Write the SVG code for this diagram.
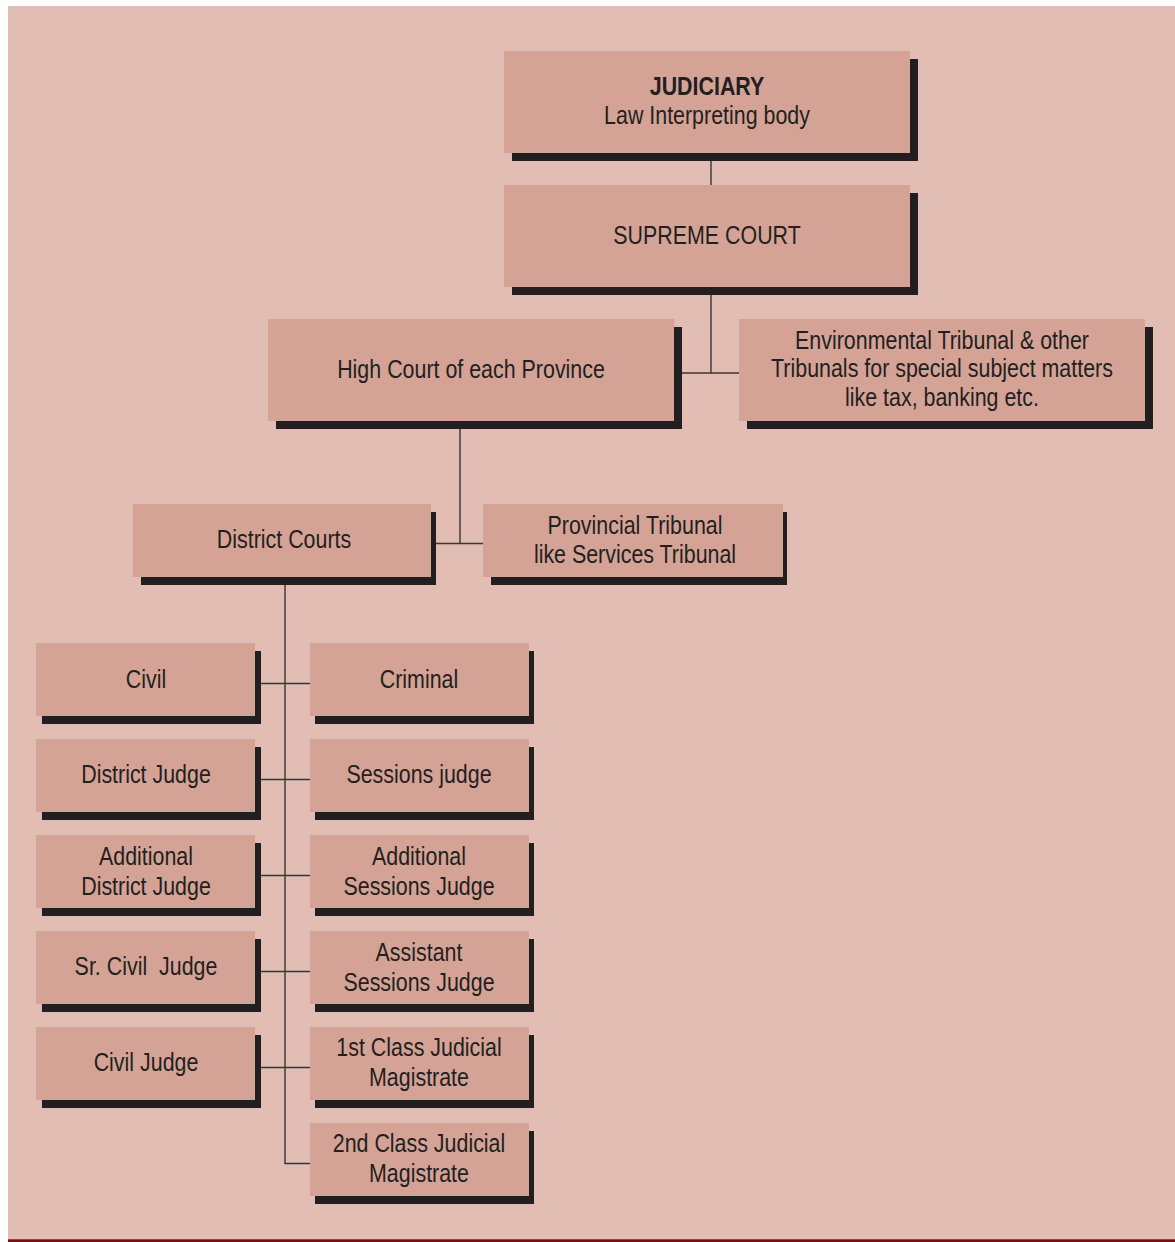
<svg xmlns="http://www.w3.org/2000/svg" width="1175" height="1242" viewBox="0 0 1175 1242">
<style>
.box{fill:#D4A396}
.sh{fill:#231F20}
text{font-family:"Liberation Sans",Arial,sans-serif;font-size:25.5px;fill:#231F20;text-anchor:middle}
.b{font-weight:bold}
.c{stroke:#3A3536;stroke-width:1.4;fill:none}
</style>
<rect x="0" y="0" width="1175" height="1242" fill="#FFFFFF"/>
<rect x="8" y="6" width="1167" height="1234" fill="#E2BDB4"/>
<rect x="8" y="1239.3" width="1167" height="2.7" fill="#7E0C12"/>
<g id="connectors">
<path class="c" d="M711 160V186M711 294V373M682 373H740M460 428V543.5M436 543.5H484M285 584V1163.5H311M261 683.5H311M261 779.5H311M261 875.5H311M261 971.5H311M261 1067.5H311"/>
</g>
<g id="judiciary"><rect class="sh" x="512" y="59" width="406" height="102"/><rect class="box" x="504" y="51" width="406" height="102"/><text transform="translate(707 95) scale(.84 1)" class="b">JUDICIARY</text><text transform="translate(707 123.5) scale(.84 1)">Law Interpreting body</text></g>
<g id="supreme"><rect class="sh" x="512" y="193" width="406" height="102"/><rect class="box" x="504" y="185" width="406" height="102"/><text transform="translate(707 244) scale(.84 1)">SUPREME COURT</text></g>
<g id="highcourt"><rect class="sh" x="276" y="327" width="406" height="102"/><rect class="box" x="268" y="319" width="406" height="102"/><text transform="translate(471 378) scale(.84 1)">High Court of each Province</text></g>
<g id="envtribunal"><rect class="sh" x="747" y="327" width="406" height="102"/><rect class="box" x="739" y="319" width="406" height="102"/><text transform="translate(942 348.5) scale(.84 1)">Environmental Tribunal &amp; other</text><text transform="translate(942 377) scale(.84 1)">Tribunals for special subject matters</text><text transform="translate(942 405.5) scale(.84 1)">like tax, banking etc.</text></g>
<g id="district"><rect class="sh" x="141" y="512" width="295" height="73"/><rect class="box" x="133" y="504" width="298" height="73"/><text transform="translate(284 547.5) scale(.84 1)">District Courts</text></g>
<g id="provincial"><rect class="sh" x="491" y="512" width="296" height="73"/><rect class="box" x="483" y="504" width="300" height="73"/><text transform="translate(635 533.5) scale(.84 1)">Provincial Tribunal</text><text transform="translate(635 562.5) scale(.84 1)">like Services Tribunal</text></g>
<g id="civil"><rect class="sh" x="42" y="651" width="219" height="73"/><rect class="box" x="36" y="643" width="219" height="73"/><text transform="translate(146 687.5) scale(.84 1)">Civil</text></g>
<g id="criminal"><rect class="sh" x="315" y="651" width="219" height="73"/><rect class="box" x="310" y="643" width="219" height="73"/><text transform="translate(419 687.5) scale(.84 1)">Criminal</text></g>
<g id="districtjudge"><rect class="sh" x="42" y="747" width="219" height="73"/><rect class="box" x="36" y="739" width="219" height="73"/><text transform="translate(146 783) scale(.84 1)">District Judge</text></g>
<g id="sessionsjudge"><rect class="sh" x="315" y="747" width="219" height="73"/><rect class="box" x="310" y="739" width="219" height="73"/><text transform="translate(419 783) scale(.84 1)">Sessions judge</text></g>
<g id="adddistrictjudge"><rect class="sh" x="42" y="843" width="219" height="73"/><rect class="box" x="36" y="835" width="219" height="73"/><text transform="translate(146 864.5) scale(.84 1)">Additional</text><text transform="translate(146 894.5) scale(.84 1)">District Judge</text></g>
<g id="addsessionsjudge"><rect class="sh" x="315" y="843" width="219" height="73"/><rect class="box" x="310" y="835" width="219" height="73"/><text transform="translate(419 864.5) scale(.84 1)">Additional</text><text transform="translate(419 894.5) scale(.84 1)">Sessions Judge</text></g>
<g id="srciviljudge"><rect class="sh" x="42" y="939" width="219" height="73"/><rect class="box" x="36" y="931" width="219" height="73"/><text transform="translate(146 975) scale(.84 1)" xml:space="preserve">Sr. Civil  Judge</text></g>
<g id="asstsessionsjudge"><rect class="sh" x="315" y="939" width="219" height="73"/><rect class="box" x="310" y="931" width="219" height="73"/><text transform="translate(419 960.5) scale(.84 1)">Assistant</text><text transform="translate(419 990.5) scale(.84 1)">Sessions Judge</text></g>
<g id="civiljudge"><rect class="sh" x="42" y="1035" width="219" height="73"/><rect class="box" x="36" y="1027" width="219" height="73"/><text transform="translate(146 1071) scale(.84 1)">Civil Judge</text></g>
<g id="firstclass"><rect class="sh" x="315" y="1035" width="219" height="73"/><rect class="box" x="310" y="1027" width="219" height="73"/><text transform="translate(419 1056) scale(.84 1)">1st Class Judicial</text><text transform="translate(419 1085.5) scale(.84 1)">Magistrate</text></g>
<g id="secondclass"><rect class="sh" x="315" y="1131" width="219" height="73"/><rect class="box" x="310" y="1123" width="219" height="73"/><text transform="translate(419 1152) scale(.84 1)">2nd Class Judicial</text><text transform="translate(419 1181.5) scale(.84 1)">Magistrate</text></g>
</svg>
